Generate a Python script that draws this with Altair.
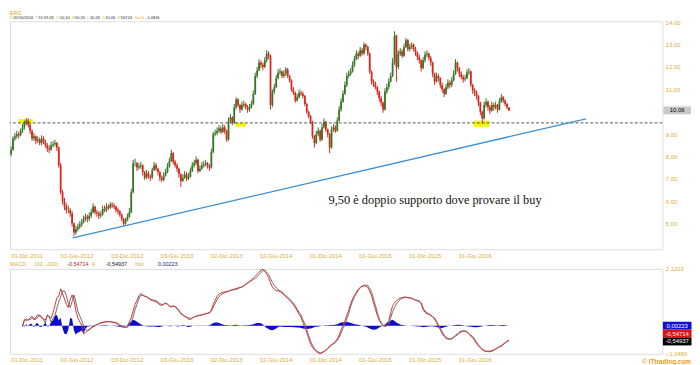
import altair as alt
import pandas as pd

# ---------------- data ----------------
start_date = "2011-10-05"          # first weekly candle
first_open = 8.1
close = [8.3, 8.8, 8.9, 9.0, 8.95, 9.15, 9.3, 9.5, 9.6, 9.4,
         9.15, 8.8, 8.9, 8.7, 8.75, 8.6, 8.8, 8.65, 8.5, 8.35,
         8.3, 8.5, 8.55, 8.6, 8.4, 7.6, 6.4, 6.0, 5.75, 5.6,
         5.6, 5.45, 5.0, 4.6, 4.75, 4.85, 4.95, 5.05, 5.2, 5.3,
         5.2, 5.35, 5.5, 5.75, 5.5, 5.45, 5.35, 5.4, 5.65, 5.6,
         5.75, 5.7, 5.85, 5.8, 5.75, 5.6, 5.55, 5.4, 5.2, 5.0,
         5.15, 5.3, 5.5, 6.4, 7.7, 7.7, 7.5, 7.55, 7.6, 7.3,
         7.05, 7.25, 7.1, 7.05, 7.4, 7.6, 7.45, 7.3, 7.05, 6.95,
         7.15, 7.3, 7.55, 7.8, 8.15, 7.75, 7.6, 7.45, 7.2, 6.9,
         7.05, 7.2, 7.0, 7.1, 7.35, 7.6, 7.7, 7.85, 7.35, 7.45,
         7.6, 7.65, 7.7, 7.55, 7.5, 8.2, 9.0, 9.05, 9.15, 9.25,
         9.1, 9.3, 9.15, 8.75, 9.6, 9.75, 9.5, 10.2, 10.55, 10.3,
         10.1, 10.3, 10.35, 10.2, 10.1, 10.2, 10.35, 10.8, 11.6, 11.85,
         12.2, 12.1, 12.0, 12.3, 12.6, 12.5, 10.3, 10.9, 11.1, 11.5,
         11.75, 11.8, 11.6, 11.7, 11.9, 11.6, 11.4, 11.0, 10.85, 10.5,
         10.65, 10.85, 10.8, 10.7, 10.35, 10.0, 9.8, 9.55, 8.9, 8.6,
         9.0, 9.15, 8.75, 9.3, 9.55, 9.2, 9.0, 8.4, 9.2, 9.3,
         9.15, 9.6, 10.1, 10.45, 10.8, 11.2, 11.6, 11.7, 11.8, 12.1,
         12.35, 12.6, 12.5, 12.75, 12.6, 13.0, 12.9, 12.6, 11.8, 11.35,
         11.25, 11.1, 10.9, 10.6, 10.4, 10.1, 10.9, 11.1, 11.35, 11.6,
         12.2, 13.4, 12.0, 12.6, 12.7, 12.5, 12.9, 13.2, 12.8, 12.9,
         13.0, 12.8, 12.65, 12.45, 12.3, 11.95, 12.3, 12.55, 12.6, 12.4,
         12.2, 11.7, 11.35, 11.6, 11.5, 11.2, 11.0, 10.8, 11.1, 11.3,
         11.2, 11.4, 11.7, 12.2, 11.95, 11.7, 11.55, 11.45, 11.5, 11.75,
         11.8, 11.2, 10.95, 10.85, 10.7, 10.4, 10.0, 9.7, 10.3, 10.45,
         10.2, 10.05, 10.3, 10.2, 10.3, 10.1, 10.45, 10.65, 10.5, 10.35,
         10.2, 10.06]

high = [8.45, 8.9, 9.05, 9.15, 9.1, 9.25, 9.45, 9.6, 9.72, 9.7,
        9.5, 9.2, 9.05, 8.95, 8.9, 8.85, 8.95, 8.9, 8.75, 8.6,
        8.5, 8.65, 8.7, 8.75, 8.65, 8.45, 7.7, 6.5, 6.15, 5.9,
        5.8, 5.7, 5.55, 5.05, 4.9, 5.0, 5.1, 5.2, 5.35, 5.45,
        5.4, 5.5, 5.65, 5.9, 5.8, 5.6, 5.55, 5.55, 5.8, 5.8,
        5.9, 5.85, 5.95, 5.95, 5.9, 5.8, 5.7, 5.6, 5.45, 5.25,
        5.25, 5.45, 5.7, 6.55, 7.85, 7.9, 7.75, 7.7, 7.75, 7.65,
        7.35, 7.4, 7.35, 7.2, 7.5, 7.75, 7.7, 7.5, 7.35, 7.15,
        7.3, 7.45, 7.7, 7.95, 8.3, 8.2, 7.85, 7.7, 7.5, 7.25,
        7.2, 7.35, 7.3, 7.25, 7.5, 7.75, 7.85, 8.0, 7.9, 7.6,
        7.75, 7.8, 7.85, 7.75, 7.65, 8.35, 9.1, 9.2, 9.3, 9.4,
        9.35, 9.45, 9.4, 9.2, 9.75, 9.9, 9.8, 10.35, 10.65, 10.6,
        10.35, 10.45, 10.5, 10.4, 10.3, 10.35, 10.5, 10.95, 11.75, 12.0,
        12.35, 12.3, 12.2, 12.45, 12.75, 12.7, 12.55, 11.0, 11.25, 11.65,
        11.9, 11.95, 11.85, 11.85, 12.0, 11.95, 11.65, 11.45, 11.1, 10.9,
        10.8, 11.0, 10.95, 10.9, 10.75, 10.4, 10.05, 9.85, 9.6, 8.95,
        9.15, 9.3, 9.2, 9.45, 9.7, 9.6, 9.25, 9.05, 9.35, 9.45,
        9.4, 9.75, 10.25, 10.6, 10.95, 11.35, 11.75, 11.85, 11.95, 12.25,
        12.5, 12.75, 12.7, 12.9, 12.85, 13.1, 13.05, 12.95, 12.65, 11.85,
        11.45, 11.35, 11.15, 10.95, 10.7, 10.45, 11.05, 11.25, 11.5, 11.75,
        12.4, 13.6, 13.45, 12.75, 12.85, 12.8, 13.05, 13.3, 13.25, 13.05,
        13.1, 13.05, 12.9, 12.7, 12.55, 12.35, 12.45, 12.7, 12.75, 12.65,
        12.5, 12.25, 11.75, 11.75, 11.7, 11.55, 11.3, 11.05, 11.25, 11.45,
        11.4, 11.55, 11.85, 12.35, 12.25, 12.0, 11.8, 11.65, 11.65, 11.9,
        11.95, 11.85, 11.25, 11.05, 10.95, 10.75, 10.45, 10.05, 10.45, 10.6,
        10.5, 10.3, 10.45, 10.4, 10.45, 10.35, 10.6, 10.8, 10.7, 10.55,
        10.4, 10.2]

low = [8.0, 8.25, 8.7, 8.8, 8.8, 8.9, 9.05, 9.2, 9.4, 9.3,
       9.0, 8.7, 8.7, 8.55, 8.6, 8.5, 8.5, 8.55, 8.4, 8.2,
       8.15, 8.25, 8.4, 8.45, 8.25, 7.5, 6.3, 5.85, 5.6, 5.45,
       5.45, 5.3, 4.85, 4.45, 4.5, 4.65, 4.75, 4.85, 5.0, 5.1,
       5.05, 5.1, 5.25, 5.45, 5.4, 5.3, 5.2, 5.25, 5.35, 5.5,
       5.5, 5.6, 5.65, 5.7, 5.65, 5.5, 5.4, 5.3, 5.1, 4.9,
       4.95, 5.1, 5.25, 5.45, 6.35, 7.55, 7.35, 7.4, 7.45, 7.15,
       6.95, 7.0, 7.0, 6.9, 7.0, 7.35, 7.35, 7.15, 6.9, 6.85,
       6.9, 7.1, 7.25, 7.5, 7.75, 7.65, 7.5, 7.3, 7.05, 6.63,
       6.85, 7.0, 6.9, 6.95, 7.05, 7.3, 7.5, 7.6, 7.25, 7.3,
       7.4, 7.5, 7.55, 7.45, 7.35, 7.45, 8.15, 8.9, 8.95, 9.05,
       9.0, 9.05, 9.0, 8.65, 8.7, 9.5, 9.4, 9.45, 10.1, 10.2,
       9.95, 10.05, 10.2, 10.1, 9.95, 10.0, 10.15, 10.3, 10.75, 11.5,
       11.8, 11.95, 11.85, 11.95, 12.2, 12.35, 10.1, 10.2, 10.8, 11.05,
       11.45, 11.65, 11.5, 11.5, 11.6, 11.5, 11.3, 10.9, 10.75, 10.4,
       10.45, 10.6, 10.7, 10.6, 10.25, 9.9, 9.7, 9.45, 8.8, 8.4,
       8.55, 8.9, 8.65, 8.7, 9.25, 9.1, 8.85, 8.15, 8.35, 9.1,
       9.05, 9.1, 9.55, 10.0, 10.4, 10.75, 11.1, 11.5, 11.6, 11.75,
       12.0, 12.3, 12.35, 12.45, 12.5, 12.55, 12.75, 12.5, 11.7, 11.2,
       11.1, 11.0, 10.75, 10.45, 10.25, 9.95, 10.05, 10.8, 11.0, 11.3,
       11.55, 12.1, 11.35, 11.9, 12.5, 12.4, 12.45, 12.85, 12.7, 12.7,
       12.8, 12.7, 12.5, 12.3, 12.15, 11.8, 11.9, 12.2, 12.45, 12.3,
       12.05, 11.55, 11.2, 11.3, 11.35, 11.05, 10.85, 10.65, 10.75, 11.0,
       11.05, 11.1, 11.35, 11.65, 11.8, 11.55, 11.45, 11.3, 11.35, 11.45,
       11.65, 11.1, 10.8, 10.7, 10.55, 10.25, 9.85, 9.48, 9.65, 10.2,
       10.05, 9.9, 10.0, 10.05, 10.1, 9.95, 10.05, 10.4, 10.4, 10.25,
       10.1, 10.03]

macd = [None] * 6 + [
    0.0, 0.2, 0.25, 0.2, 0.3, 0.35, 0.22, 0.3, 0.42, 0.35,
    0.3, 0.25, 0.22, 0.38, 0.32, 0.28, 0.48, 0.75, 1.05, 1.1,
    1.38, 1.2, 1.0, 0.8, 0.68, 0.98, 1.15, 0.95, 0.55, 0.3,
    0.15, 0.02, -0.3, -0.25, -0.2, -0.15, -0.1, -0.04, 0.0, 0.04,
    0.08, 0.11, 0.13, 0.15, 0.16, 0.16, 0.15, 0.13, 0.12, 0.1,
    0.05, 0.0, -0.04, -0.06, -0.07, -0.03, 0.15, 0.3, 0.55, 0.8,
    0.95, 1.12, 1.2, 1.15, 1.1, 1.07, 1.02, 0.97, 0.94, 0.92,
    0.89, 0.84, 0.78, 0.76, 0.8, 0.84, 0.8, 0.72, 0.7, 0.74,
    0.7, 0.64, 0.55, 0.46, 0.42, 0.36, 0.3, 0.25, 0.23, 0.28,
    0.33, 0.36, 0.38, 0.4, 0.41, 0.43, 0.45, 0.47, 0.49, 0.6,
    0.8, 0.95, 1.1, 1.18, 1.22, 1.25, 1.26, 1.28, 1.3, 1.32,
    1.35, 1.37, 1.39, 1.41, 1.43, 1.45, 1.5, 1.55, 1.6, 1.66,
    1.72, 1.78, 1.85, 1.93, 2.0, 2.08, 2.1, 2.05, 1.92, 1.8,
    1.6, 1.45, 1.36, 1.31, 1.3, 1.28, 1.22, 1.15, 1.08, 1.02,
    0.95, 0.87, 0.78, 0.68, 0.55, 0.42, 0.32, 0.12, -0.05, -0.25,
    -0.48, -0.68, -0.8, -0.9, -0.96, -1.01, -1.04, -1.0, -0.96, -0.9,
    -0.84, -0.76, -0.7, -0.65, -0.59, -0.48, -0.35, -0.15, 0.02, 0.17,
    0.4, 0.58, 0.82, 1.0, 1.14, 1.25, 1.36, 1.43, 1.47, 1.49,
    1.48, 1.43, 1.3, 1.12, 0.85, 0.62, 0.38, 0.2, 0.08, 0.01,
    0.02, 0.1, 0.2, 0.48, 0.75, 0.86, 0.93, 0.99, 1.03, 1.05,
    1.07, 1.07, 1.05, 1.04, 1.02, 0.98, 0.95, 0.92, 0.9, 0.82,
    0.6, 0.5, 0.45, 0.42, 0.38, 0.32, 0.26, 0.12, -0.02, -0.15,
    -0.3, -0.4, -0.47, -0.5, -0.5, -0.48, -0.42, -0.36, -0.3, -0.24,
    -0.2, -0.19, -0.2, -0.24, -0.32, -0.39, -0.45, -0.56, -0.67, -0.76,
    -0.83, -0.89, -0.93, -0.95, -0.95, -0.94, -0.93, -0.9, -0.86, -0.82,
    -0.78, -0.74, -0.68, -0.63, -0.58, -0.54714]

hist = [None] * 6 + [
    0.05, -0.04, 0.06, -0.03, 0.08, 0.05, -0.06, 0.07, 0.1, -0.05,
    -0.04, 0.03, 0.12, -0.03, -0.02, 0.15, 0.2, 0.38, 0.4, 0.2,
    0.3, -0.1, -0.3, -0.32, -0.15, 0.3, 0.25, -0.2, -0.33, -0.25,
    -0.22, -0.18, -0.3, -0.1, -0.03, -0.02, -0.02, -0.02, -0.01, 0.0,
    0.01, 0.01, 0.02, 0.02, 0.02, 0.01, 0.0, -0.01, -0.01, -0.02,
    -0.03, -0.04, -0.04, -0.03, -0.02, 0.03, 0.1, 0.18, 0.22, 0.2,
    0.15, 0.1, 0.06, 0.02, -0.01, -0.02, -0.03, -0.03, -0.03, -0.03,
    -0.04, -0.05, -0.05, -0.03, -0.01, 0.0, -0.01, -0.02, -0.02, 0.0,
    -0.01, -0.02, -0.03, 0.01, 0.03, 0.02, -0.03, -0.05, -0.04, -0.01,
    0.0, 0.01, 0.01, 0.01, 0.01, 0.01, 0.01, 0.01, 0.02, 0.06,
    0.1, 0.12, 0.12, 0.1, 0.07, 0.05, 0.03, 0.02, 0.02, 0.01,
    0.02, 0.03, 0.04, 0.02, 0.01, 0.01, 0.02, 0.02, 0.02, 0.03,
    0.04, 0.06, 0.08, 0.1, 0.1, 0.09, 0.05, -0.02, -0.08, -0.12,
    -0.16, -0.17, -0.14, -0.1, -0.05, -0.03, -0.04, -0.05, -0.05, -0.05,
    -0.05, -0.05, -0.06, -0.06, -0.07, -0.07, -0.08, -0.1, -0.11, -0.12,
    -0.11, -0.1, -0.08, -0.05, -0.04, -0.03, -0.02, 0.0, 0.01, 0.02,
    0.02, 0.03, 0.03, 0.03, 0.04, 0.06, 0.09, 0.12, 0.13, 0.13,
    0.14, 0.13, 0.1, 0.08, 0.06, 0.05, 0.04, 0.02, 0.0, -0.02,
    -0.04, -0.07, -0.1, -0.13, -0.15, -0.14, -0.11, -0.07, -0.03, 0.01,
    0.05, 0.1, 0.14, 0.2, 0.22, 0.18, 0.12, 0.08, 0.05, 0.03,
    0.02, 0.01, 0.0, 0.0, -0.01, -0.01, -0.02, -0.03, -0.03, -0.04,
    -0.06, -0.05, -0.04, -0.03, -0.02, -0.02, -0.03, -0.05, -0.07, -0.08,
    -0.08, -0.06, -0.04, -0.02, 0.0, 0.01, 0.02, 0.03, 0.04, 0.04,
    0.03, 0.02, 0.0, -0.02, -0.03, -0.04, -0.05, -0.06, -0.06, -0.05,
    -0.04, -0.02, 0.0, 0.01, 0.02, 0.03, 0.03, 0.02, 0.02, 0.01,
    0.02, 0.03, 0.03, 0.02, 0.01, 0.00223]

tick_dates = ["2011-12-01", "2012-06-01", "2012-12-03", "2013-06-03", "2013-12-02",
              "2014-06-02", "2014-12-01", "2015-06-01", "2015-12-01", "2016-06-01"]
tick_labels = ["01-Dic-2011", "01-Giu-2012", "03-Dic-2012", "03-Giu-2013", "02-Dic-2013",
               "02-Giu-2014", "01-Dic-2014", "01-Giu-2015", "01-Dic-2015", "01-Giu-2016"]
price_ticks = [5, 6, 7, 8, 9, 11, 12, 13, 14]
macd_ticks = [-1.048, 2.1203]

support_level = 9.5
trend_dates = ["2012-05-18", "2017-07-15"]
trend_values = [4.36, 9.68]
hl_start = ["2011-11-02", "2014-01-05", "2016-05-28"]
hl_end = ["2011-12-23", "2014-02-13", "2016-07-25"]
hl_low = [9.46, 9.33, 9.33]
hl_high = [9.68, 9.51, 9.6]
note_text = "9,50 è doppio supporto dove provare il buy"
note_date = "2016-01-08"
note_value = 6.07

header_keys = ["D", "T", "O", "H", "L", "C", "V", "Var%"]
header_vals = ["05/10/2016", "11:59:26", "10,10", "10,20", "10,03", "10,06", "561'24", "-1,0816"]
macd_labels = ["0,00223", "-0,54714", "-0,54937"]

# ---------------- layout / style ----------------
W, H1, H2 = 661, 231, 86
GOLD = "#d8ac3c"
ORANGE = "#e8a018"
FONT = "Liberation Sans"
UP, DOWN = "#3a7428", "#d3281c"


def dt(s):
    y, m, d = (int(p) for p in s.split("-"))
    return alt.DateTime(year=y, month=m, date=d)


def chain_expr(keys, labels):
    expr = "''"
    for k, l in reversed(list(zip(keys, labels))):
        expr = f"timeFormat(datum.value, '%Y-%m-%d') == '{k}' ? '{l}' : ({expr})"
    return expr


xscale = alt.Scale(domain=[dt("2011-10-01"), dt("2018-04-21")], padding=0)
xaxis = alt.Axis(values=[dt(s) for s in tick_dates], labelExpr=chain_expr(tick_dates, tick_labels),
                 ticks=False, domain=False, grid=False, labelColor=GOLD, labelFont=FONT,
                 labelFontSize=6, labelPadding=3, labelFlush=False, title=None)
yscale1 = alt.Scale(domain=[3.85, 14.05], nice=False, zero=False, padding=0)
yaxis1 = alt.Axis(orient="right", values=price_ticks,
                  labelExpr="replace(format(datum.value, '.2f'), '.', ',')",
                  ticks=False, domain=False, grid=False, labelColor=GOLD, labelFont=FONT,
                  labelFontSize=6, labelPadding=3, title=None)
yscale2 = alt.Scale(domain=[-1.048, 2.1203], nice=False, zero=False, padding=0)
yaxis2 = alt.Axis(orient="right", values=macd_ticks,
                  labelExpr="replace(format(datum.value, '.4f'), '.', ',')",
                  ticks=False, domain=False, grid=False, labelColor=GOLD, labelFont=FONT,
                  labelFontSize=6, labelPadding=3, title=None)


def X(field):
    return alt.X(field, type="temporal", scale=xscale, axis=xaxis)


def Y1(field):
    return alt.Y(field, type="quantitative", scale=yscale1, axis=yaxis1)


def Y2(field):
    return alt.Y(field, type="quantitative", scale=yscale2, axis=yaxis2)


dates = pd.date_range(start_date, periods=len(close), freq="7D")
opens = [first_open] + close[:-1]
candles = pd.DataFrame({"date": dates, "open": opens, "close": close, "high": high, "low": low,
                        "dir": ["up" if c >= o else "down" for o, c in zip(opens, close)]})
macd_df = pd.DataFrame({"date": dates, "macd": macd, "hist": hist}).dropna()
macd_df["signal"] = macd_df["macd"] - macd_df["hist"]

hl_df = pd.DataFrame({"date": hl_start, "date2": hl_end, "lo": hl_low, "hi": hl_high})
trend_df = pd.DataFrame({"date": trend_dates, "v": trend_values})
dir_color = alt.Color("dir:N", scale=alt.Scale(domain=["up", "down"], range=[UP, DOWN]), legend=None)

# ---------------- top panel ----------------
highlights = alt.Chart(hl_df).mark_rect(color="#f6f200").encode(
    x=X("date"), x2="date2", y=Y1("lo"), y2="hi")

wicks = alt.Chart(candles).mark_rule(strokeWidth=1).encode(
    x=X("date"), y=Y1("low"), y2="high", color=dir_color)
bodies = alt.Chart(candles).mark_bar(width=1.8).encode(
    x=X("date"), y=Y1("open"), y2="close", color=dir_color)

support = alt.Chart(pd.DataFrame({"v": [support_level]})).mark_rule(
    color="#555555", strokeDash=[3, 2], strokeWidth=1).encode(y=Y1("v"))

trend = alt.Chart(trend_df).mark_line(color="#3a8fd4", strokeWidth=1.3).encode(x=X("date"), y=Y1("v"))

note = alt.Chart(pd.DataFrame({"date": [note_date], "v": [note_value], "t": [note_text]})).mark_text(
    font="Liberation Serif", fontSize=12.5, color="#111111", baseline="middle", align="center").encode(
    x=X("date"), y=Y1("v"), text="t:N")

last_df = pd.DataFrame({"v": [close[-1]], "t": ["10,06"]})
tag = alt.Chart(last_df).mark_tick(color="#c9c9c9", size=28, thickness=8, orient="horizontal",
                                   opacity=1).encode(x=alt.value(W + 15), y=Y1("v"))
tag_txt = alt.Chart(last_df).mark_text(font=FONT, fontSize=6, color="#000000").encode(
    x=alt.value(W + 15), y=Y1("v"), text="t:N")

hdr_x_keys = [0, 26, 47, 63, 78.5, 93.5, 109, 126.5]
hdr_x_vals = [3.5, 29, 50.5, 66, 81, 96.5, 112, 138]
hdr_rows = [{"t": "ERG", "x": 0, "y": -8.5, "c": ORANGE, "s": 5.5}]
for k, v, xk, xv in zip(header_keys, header_vals, hdr_x_keys, hdr_x_vals):
    hdr_rows.append({"t": k, "x": xk, "y": -2.8, "c": ORANGE, "s": 4})
    hdr_rows.append({"t": v, "x": xv, "y": -2.8, "c": "#222222", "s": 4})
header = alt.Chart(pd.DataFrame(hdr_rows)).mark_text(
    font=FONT, align="left", baseline="middle").encode(
    x=alt.X("x:Q", scale=None), y=alt.Y("y:Q", scale=None), text="t:N",
    color=alt.Color("c:N", scale=None), size=alt.Size("s:Q", scale=None))

top = alt.layer(highlights, wicks, bodies, support, trend, note, tag, tag_txt, header).properties(
    width=W, height=H1)

# ---------------- MACD panel ----------------
hist_area = alt.Chart(macd_df).mark_area(color="#0a0ad0", opacity=1).encode(
    x=X("date"), y=Y2("hist"), y2=alt.datum(0))
sig_line = alt.Chart(macd_df).mark_line(color="#7a6666", strokeWidth=1).encode(x=X("date"), y=Y2("signal"))
macd_line = alt.Chart(macd_df).mark_line(color="#c83a3a", strokeWidth=1).encode(x=X("date"), y=Y2("macd"))

tag_colors = ["#1010d0", "#e01010", "#000000"]
mtags = []
for i, (lab, col) in enumerate(zip(macd_labels, tag_colors)):
    row = pd.DataFrame({"v": [hist[-1]], "t": [lab]})
    mtags.append(alt.Chart(row).mark_tick(size=29, thickness=8, orient="horizontal", opacity=1,
                                          yOffset=8 * i, color=col).encode(
        x=alt.value(W + 15), y=Y2("v")))
    mtags.append(alt.Chart(row).mark_text(font=FONT, fontSize=6, color="#ffffff", yOffset=8 * i).encode(
        x=alt.value(W + 15), y=Y2("v"), text="t:N"))

mh_rows = [
    {"t": "MACD", "x": 0, "c": GOLD},
    {"t": "(32 , 200):", "x": 25, "c": GOLD},
    {"t": "-0,54714", "x": 58, "c": "#b02828"},
    {"t": "9 :", "x": 83, "c": GOLD},
    {"t": "-0,54937", "x": 97, "c": "#111111"},
    {"t": "hist :", "x": 127, "c": GOLD},
    {"t": "0,00223", "x": 150, "c": "#1a1a8a"},
]
mheader = alt.Chart(pd.DataFrame(mh_rows)).mark_text(
    font=FONT, fontSize=5.5, align="left", baseline="middle").encode(
    x=alt.X("x:Q", scale=None), y=alt.value(-5), text="t:N", color=alt.Color("c:N", scale=None))

credit = alt.Chart(pd.DataFrame({"t": ["© ITtrading.com"]})).mark_text(
    font=FONT, fontSize=6.5, fontWeight="bold", color=ORANGE, align="right", baseline="middle").encode(
    x=alt.value(W + 29), y=alt.value(H2 + 8), text="t:N")

bottom = alt.layer(hist_area, sig_line, macd_line, *mtags, mheader, credit).properties(width=W, height=H2)

chart = alt.vconcat(top, bottom, spacing=2).properties(
    padding={"left": 1, "top": 0, "right": 0, "bottom": 0}
).configure_view(stroke="#c4c4c4", strokeWidth=1).configure(background="#ffffff")

chart.save("out.html", embed_options={"renderer": "svg", "actions": False})
